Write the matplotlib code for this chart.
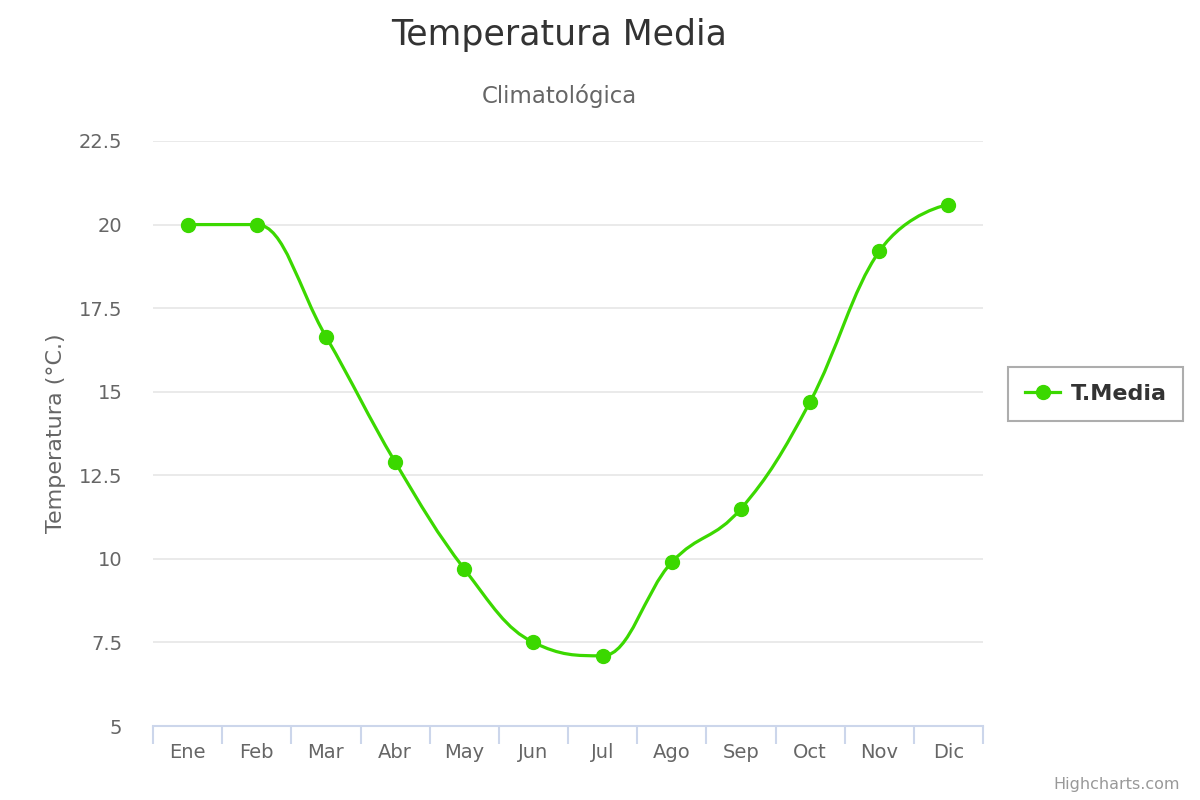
import numpy as np
import matplotlib.pyplot as plt
from matplotlib.path import Path
from matplotlib.patches import PathPatch
from matplotlib.lines import Line2D

months = ['Ene', 'Feb', 'Mar', 'Abr', 'May', 'Jun', 'Jul', 'Ago', 'Sep', 'Oct', 'Nov', 'Dic']
t_media = [20.0, 20.0, 16.65, 12.9, 9.7, 7.5, 7.1, 9.9, 11.5, 14.7, 19.2, 20.6]
y_ticks = [5, 7.5, 10, 12.5, 15, 17.5, 20, 22.5]
y_tick_labels = ['5', '7.5', '10', '12.5', '15', '17.5', '20', '22.5']

GREEN = '#3bd800'


def spline_path(xs, ys, smoothing=1.5):
    # Highcharts style spline: cubic bezier with control points per point
    n = len(xs)
    denom = smoothing + 1
    left = [None] * n
    right = [None] * n
    for i in range(1, n - 1):
        lx, ly = xs[i - 1], ys[i - 1]
        px, py = xs[i], ys[i]
        nx, ny = xs[i + 1], ys[i + 1]
        lcx = (smoothing * px + lx) / denom
        lcy = (smoothing * py + ly) / denom
        rcx = (smoothing * px + nx) / denom
        rcy = (smoothing * py + ny) / denom
        if rcx != lcx:
            corr = (rcy - lcy) * (rcx - px) / (rcx - lcx) + py - rcy
            lcy += corr
            rcy += corr
        if lcy > ly and lcy > py:
            lcy = max(ly, py)
            rcy = 2 * py - lcy
        elif lcy < ly and lcy < py:
            lcy = min(ly, py)
            rcy = 2 * py - lcy
        if rcy > ny and rcy > py:
            rcy = max(ny, py)
            lcy = 2 * py - rcy
        elif rcy < ny and rcy < py:
            rcy = min(ny, py)
            lcy = 2 * py - rcy
        left[i] = (lcx, lcy)
        right[i] = (rcx, rcy)
    verts = [(xs[0], ys[0])]
    codes = [Path.MOVETO]
    for i in range(1, n):
        c1 = right[i - 1] if right[i - 1] is not None else (xs[i - 1], ys[i - 1])
        c2 = left[i] if left[i] is not None else (xs[i], ys[i])
        verts += [c1, c2, (xs[i], ys[i])]
        codes += [Path.CURVE4] * 3
    return Path(verts, codes)


fig = plt.figure(figsize=(12, 8), dpi=100)
ax = fig.add_axes([0.1275, 0.0925, 0.6917, 0.73125])

x = np.arange(len(months))
path = spline_path(list(x), t_media)
ax.add_patch(PathPatch(path, facecolor='none', edgecolor=GREEN, lw=2.3, zorder=3))
ax.plot(x, t_media, 'o', color=GREEN, markersize=10, zorder=4)

ax.set_xlim(-0.5, len(months) - 0.5)
ax.set_ylim(5, 22.5)
ax.set_yticks(y_ticks)
ax.set_yticklabels(y_tick_labels)
ax.set_xticks(x)
ax.set_xticklabels(months)
ax.set_xticks(np.arange(-0.5, len(months)), minor=True)

ax.grid(axis='y', color='#e6e6e6', lw=1.2)
ax.set_axisbelow(True)
for s in ['top', 'right', 'left']:
    ax.spines[s].set_visible(False)
ax.spines['bottom'].set_color('#ccd6eb')
ax.spines['bottom'].set_linewidth(1.5)

ax.tick_params(axis='y', length=0, labelsize=14, labelcolor='#666666', pad=22)
ax.tick_params(axis='x', which='major', length=0, labelsize=14, labelcolor='#666666', pad=12)
ax.tick_params(axis='x', which='minor', length=13, width=1.5, color='#ccd6eb')

ax.set_ylabel('Temperatura (°C.)', fontsize=16, color='#666666', labelpad=9)

fig.text(0.4663, 0.956, 'Temperatura Media', ha='center', va='center', fontsize=25, color='#333333')
fig.text(0.4663, 0.88, 'Climatológica', ha='center', va='center', fontsize=16.5, color='#666666')
fig.text(0.983, 0.02, 'Highcharts.com', ha='right', va='center', fontsize=11.5, color='#999999')

handle = Line2D([], [], color=GREEN, lw=2.3, marker='o', markersize=10)
leg = ax.legend([handle], ['T.Media'], loc='center left', bbox_to_anchor=(1.017, 0.5675),
                frameon=True, fancybox=False, handlelength=1.6, handletextpad=0.45,
                prop={'size': 16, 'weight': 'bold'}, borderpad=0.75)
leg.get_frame().set_edgecolor('#999999')
leg.get_frame().set_linewidth(1.5)
for t in leg.get_texts():
    t.set_color('#333333')

fig.savefig('out.png', dpi=100)
